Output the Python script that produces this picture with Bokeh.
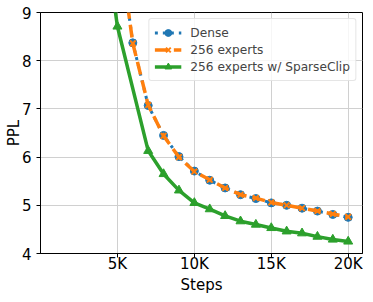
from bokeh.plotting import figure
from bokeh.models import Range1d, FixedTicker
from bokeh.embed import file_html
from bokeh.resources import INLINE

# ---- data ----
steps = [5000, 6000, 7000, 8000, 9000, 10000, 11000, 12000, 13000, 14000,
         15000, 16000, 17000, 18000, 19000, 20000]
dense = [10.7, 8.37, 7.07, 6.45, 6.01, 5.71, 5.52, 5.36, 5.22, 5.14,
         5.05, 5.00, 4.94, 4.88, 4.81, 4.75]
experts256 = [10.7, 8.36, 7.08, 6.44, 6.00, 5.70, 5.53, 5.36, 5.22, 5.15,
              5.06, 5.00, 4.94, 4.88, 4.82, 4.76]
steps_clip = [4000, 5000, 7000, 8000, 9000, 10000, 11000, 12000, 13000, 14000,
              15000, 16000, 17000, 18000, 19000, 20000]
sparseclip = [11.0, 8.71, 6.13, 5.65, 5.31, 5.05, 4.92, 4.78, 4.67, 4.60,
              4.53, 4.46, 4.42, 4.35, 4.29, 4.25]
x_ticks = [5000, 10000, 15000, 20000]
x_tick_labels = ["5K", "10K", "15K", "20K"]
y_ticks = [4, 5, 6, 7, 8, 9]

BLUE = "#1f77b4"
ORANGE = "#ff7f0e"
GREEN = "#2ca02c"
FONT = "DejaVu Sans"

p = figure(frame_width=322, frame_height=241, output_backend="svg", toolbar_location=None,
           x_range=Range1d(0, 20930), y_range=Range1d(4, 9),
           min_border_left=40, min_border_right=1, min_border_top=12, min_border_bottom=0)

# Dense
p.line(steps, dense, line_color=BLUE, line_width=3, line_dash="3 5", legend_label="Dense")
p.scatter(steps, dense, marker="circle", size=8, fill_color=BLUE, line_color=BLUE,
          legend_label="Dense")
# 256 experts
p.line(steps, experts256, line_color=ORANGE, line_width=3.5, line_dash="13 6",
       legend_label="256 experts")
p.scatter(steps, experts256, marker="x", size=8, line_color=ORANGE, line_width=2,
          legend_label="256 experts")
# SparseClip
p.line(steps_clip, sparseclip, line_color=GREEN, line_width=3.5,
       legend_label="256 experts w/ SparseClip")
p.scatter(steps_clip, sparseclip, marker="triangle", size=9, fill_color=GREEN,
          line_color=GREEN, legend_label="256 experts w/ SparseClip")

# axes
p.xaxis.ticker = FixedTicker(ticks=x_ticks)
p.xaxis.major_label_overrides = {t: l for t, l in zip(x_ticks, x_tick_labels)}
p.yaxis.ticker = FixedTicker(ticks=y_ticks)
p.xaxis.axis_label = "Steps"
p.yaxis.axis_label = "PPL"
for ax in (p.xaxis, p.yaxis):
    ax.axis_label_text_font = FONT
    ax.axis_label_text_font_size = "15px"
    ax.axis_label_text_font_style = "normal"
    ax.axis_label_text_color = "black"
    ax.major_label_text_font = FONT
    ax.major_label_text_font_size = "15px"
    ax.major_label_text_color = "black"
    ax.axis_line_color = "black"
    ax.major_tick_line_color = "black"
    ax.major_tick_out = 4
    ax.major_tick_in = 0
    ax.minor_tick_line_color = None
p.xaxis.major_label_standoff = -3
p.xaxis.axis_label_standoff = 0
p.yaxis.major_label_standoff = 5
p.yaxis.axis_label_standoff = -4

p.grid.grid_line_color = "#d0d0d0"
p.grid.grid_line_width = 1
p.outline_line_color = "black"
p.outline_line_width = 1
p.background_fill_color = "white"
p.border_fill_color = "white"

lg = p.legend[0]
lg.location = "top_right"
lg.margin = 6
lg.padding = 5
lg.spacing = 0
lg.label_height = 17
lg.glyph_height = 17
lg.glyph_width = 27
lg.label_standoff = 9
lg.label_text_font = FONT
lg.label_text_font_size = "12.2px"
lg.border_line_color = "#cccccc"
lg.background_fill_alpha = 0.8
try:
    lg.border_radius = 3
except Exception:
    pass

open("out.html", "w").write(file_html(p, INLINE))
